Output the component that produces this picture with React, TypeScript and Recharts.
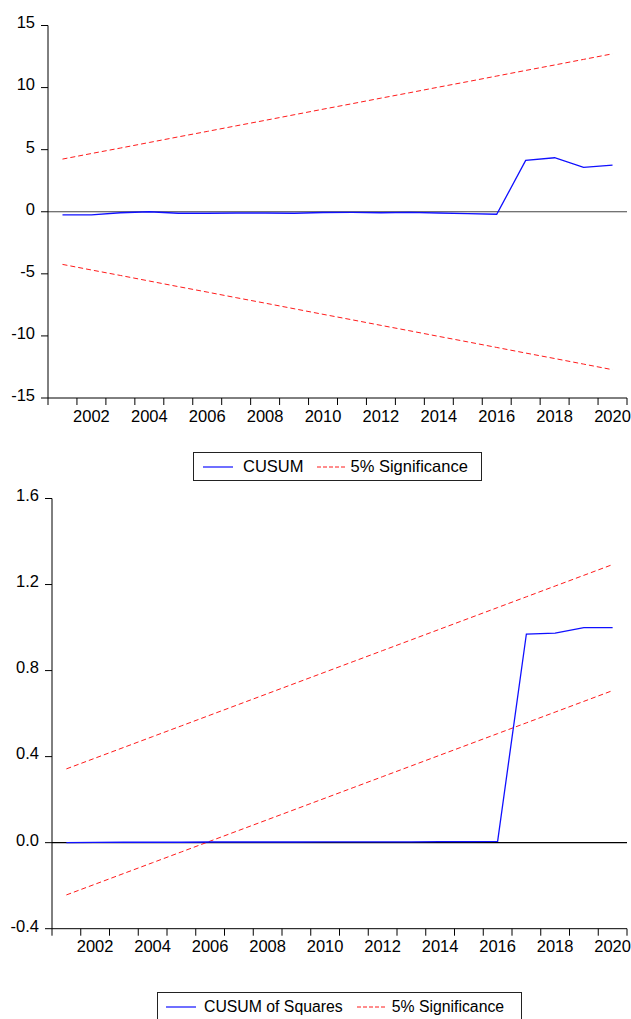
import React from 'react';
import { LineChart, Line, XAxis, YAxis, ReferenceLine, Legend } from 'recharts';

// ---------- data ----------
const YEARS = [2001, 2002, 2003, 2004, 2005, 2006, 2007, 2008, 2009, 2010, 2011, 2012, 2013, 2014, 2015, 2016, 2017, 2018, 2019, 2020];
const YEAR_BOUNDARIES = [2000.5, 2001.5, 2002.5, 2003.5, 2004.5, 2005.5, 2006.5, 2007.5, 2008.5, 2009.5, 2010.5, 2011.5, 2012.5, 2013.5, 2014.5, 2015.5, 2016.5, 2017.5, 2018.5, 2019.5, 2020.5];
const X_LABEL_YEARS = [2002, 2004, 2006, 2008, 2010, 2012, 2014, 2016, 2018, 2020];

const CUSUM = [-0.25, -0.25, -0.08, 0.0, -0.12, -0.12, -0.1, -0.1, -0.12, -0.06, -0.05, -0.08, -0.05, -0.1, -0.15, -0.2, 4.13, 4.35, 3.57, 3.76];
const CUSUM_UPPER = [4.24, 4.69, 5.13, 5.58, 6.03, 6.47, 6.92, 7.36, 7.81, 8.26, 8.7, 9.15, 9.59, 10.04, 10.48, 10.93, 11.38, 11.82, 12.27, 12.72];
const CUSUM_LOWER = [-4.24, -4.69, -5.13, -5.58, -6.03, -6.47, -6.92, -7.36, -7.81, -8.26, -8.7, -9.15, -9.59, -10.04, -10.48, -10.93, -11.38, -11.82, -12.27, -12.72];
const CUSUM_TICKS = [-15, -10, -5, 0, 5, 10, 15];

const CUSUMSQ = [0.0, 0.001, 0.002, 0.002, 0.002, 0.003, 0.003, 0.003, 0.003, 0.004, 0.004, 0.004, 0.004, 0.005, 0.005, 0.006, 0.97, 0.974, 1.0, 1.0];
const SQ_UPPER = [0.343, 0.393, 0.443, 0.493, 0.543, 0.593, 0.643, 0.693, 0.743, 0.793, 0.843, 0.893, 0.943, 0.993, 1.043, 1.093, 1.143, 1.193, 1.243, 1.293];
const SQ_LOWER = [-0.243, -0.193, -0.143, -0.093, -0.043, 0.007, 0.057, 0.107, 0.157, 0.207, 0.257, 0.307, 0.357, 0.407, 0.457, 0.507, 0.557, 0.607, 0.657, 0.707];
const SQ_TICKS = [-0.4, 0.0, 0.4, 0.8, 1.2, 1.6];

const cusumData = YEARS.map((year, i) => ({ year, cusum: CUSUM[i], upper: CUSUM_UPPER[i], lower: CUSUM_LOWER[i] }));
const sqData = YEARS.map((year, i) => ({ year, cusum: CUSUMSQ[i], upper: SQ_UPPER[i], lower: SQ_LOWER[i] }));

// ---------- style ----------
const FONT = '"Liberation Sans", Arial, Helvetica, sans-serif';
const BLUE = '#1010ff';
const RED = '#ff1a1a';
const TEXT = '#000';
const W = 631;
const TICK_FS = 16.5;

const makeXTick = (halfBand: number) => (props: any) => {
  const { x, y, payload } = props;
  const yr = Math.round(payload.value + 0.5);
  if (!X_LABEL_YEARS.includes(yr)) return <g />;
  return (
    <text x={x + halfBand} y={y} dy="0.71em" textAnchor="middle" fill={TEXT} fontSize={TICK_FS} fontFamily={FONT}>
      {yr}
    </text>
  );
};

const makeYTick = (fmt: (v: number) => string) => (props: any) => {
  const { x, y, payload } = props;
  return (
    <text x={x} y={y - 3} dy="0.355em" textAnchor="end" fill={TEXT} fontSize={TICK_FS} fontFamily={FONT}>
      {fmt(payload.value)}
    </text>
  );
};

type LegendCfg = { width: number; pad: number; gap1: number; gap2: number; gap3: number; label: string; fs: number };

const LegendBox = ({ cfg }: { cfg: LegendCfg }) => (
  <div
    style={{
      boxSizing: 'border-box',
      width: cfg.width,
      height: 29,
      border: '1px solid #222',
      background: '#fff',
      display: 'flex',
      alignItems: 'center',
      paddingLeft: cfg.pad,
      fontFamily: FONT,
      fontSize: cfg.fs,
      color: TEXT,
      whiteSpace: 'nowrap',
    }}
  >
    <svg width={30} height={6} style={{ display: 'block' }}>
      <line x1={0} y1={3} x2={30} y2={3} stroke={BLUE} strokeWidth={1.2} />
    </svg>
    <span style={{ marginLeft: cfg.gap1 }}>{cfg.label}</span>
    <svg width={30} height={6} style={{ display: 'block', marginLeft: cfg.gap2 }}>
      <line x1={0} y1={3} x2={30} y2={3} stroke={RED} strokeWidth={1} strokeDasharray="4 2" />
    </svg>
    <span style={{ marginLeft: cfg.gap3 }}>5% Significance</span>
  </div>
);

type PanelProps = {
  data: any[];
  height: number;
  top: number;
  margin: { top: number; right: number; left: number; bottom: number };
  yWidth: number;
  domain: [number, number];
  ticks: number[];
  fmt: (v: number) => string;
  zeroColor: string;
  legendTop: number;
  legendLeft: number;
  legendCfg: LegendCfg;
};

const Panel = (p: PanelProps) => {
  const plotW = W - p.margin.left - p.margin.right - p.yWidth;
  const halfBand = plotW / YEARS.length / 2;
  return (
    <div style={{ position: 'absolute', left: 0, top: p.top }}>
      <LineChart width={W} height={p.height} data={p.data} margin={p.margin}>
        <XAxis
          dataKey="year"
          type="number"
          domain={[2000.5, 2020.5]}
          ticks={YEAR_BOUNDARIES}
          interval={0}
          height={30}
          tickSize={7}
          tickMargin={5}
          axisLine={{ stroke: '#000' }}
          tickLine={{ stroke: '#000' }}
          tick={makeXTick(halfBand)}
          allowDataOverflow
        />
        <YAxis
          type="number"
          domain={p.domain}
          ticks={p.ticks}
          interval={0}
          width={p.yWidth}
          tickSize={7}
          tickMargin={6}
          axisLine={{ stroke: '#000' }}
          tickLine={{ stroke: '#000' }}
          tick={makeYTick(p.fmt)}
          allowDataOverflow
        />
        <ReferenceLine y={0} stroke={p.zeroColor} strokeWidth={1.2} />
        <Line dataKey="upper" stroke={RED} strokeWidth={1} strokeDasharray="5 3" dot={false} activeDot={false} isAnimationActive={false} legendType="none" />
        <Line dataKey="lower" stroke={RED} strokeWidth={1} strokeDasharray="5 3" dot={false} activeDot={false} isAnimationActive={false} legendType="none" />
        <Line dataKey="cusum" stroke={BLUE} strokeWidth={1.3} dot={false} activeDot={false} isAnimationActive={false} legendType="none" />
        <Legend
          verticalAlign="bottom"
          wrapperStyle={{ top: p.legendTop, left: p.legendLeft, bottom: 'auto', width: 'auto', height: 29 }}
          content={() => <LegendBox cfg={p.legendCfg} />}
        />
      </LineChart>
    </div>
  );
};

export default function App() {
  return (
    <div style={{ position: 'absolute', left: 0, top: 0, width: W, height: 1019, background: '#fff' }}>
      <Panel
        data={cusumData}
        height={490}
        top={0}
        margin={{ top: 25.5, right: 4, left: 0, bottom: 33 }}
        yWidth={48}
        domain={[-15, 15]}
        ticks={CUSUM_TICKS}
        fmt={(v) => String(v)}
        zeroColor="#444"
        legendTop={452}
        legendLeft={193}
        legendCfg={{ width: 289, pad: 9, gap1: 10, gap2: 13, gap3: 4, label: 'CUSUM', fs: 16.5 }}
      />
      <Panel
        data={sqData}
        height={549}
        top={470}
        margin={{ top: 28.5, right: 4, left: 0, bottom: 31.3 }}
        yWidth={52}
        domain={[-0.4, 1.6]}
        ticks={SQ_TICKS}
        fmt={(v) => v.toFixed(1)}
        zeroColor="#000"
        legendTop={522.3}
        legendLeft={157}
        legendCfg={{ width: 365, pad: 8, gap1: 8, gap2: 14, gap3: 5, label: 'CUSUM of Squares', fs: 15.8 }}
      />
    </div>
  );
}
